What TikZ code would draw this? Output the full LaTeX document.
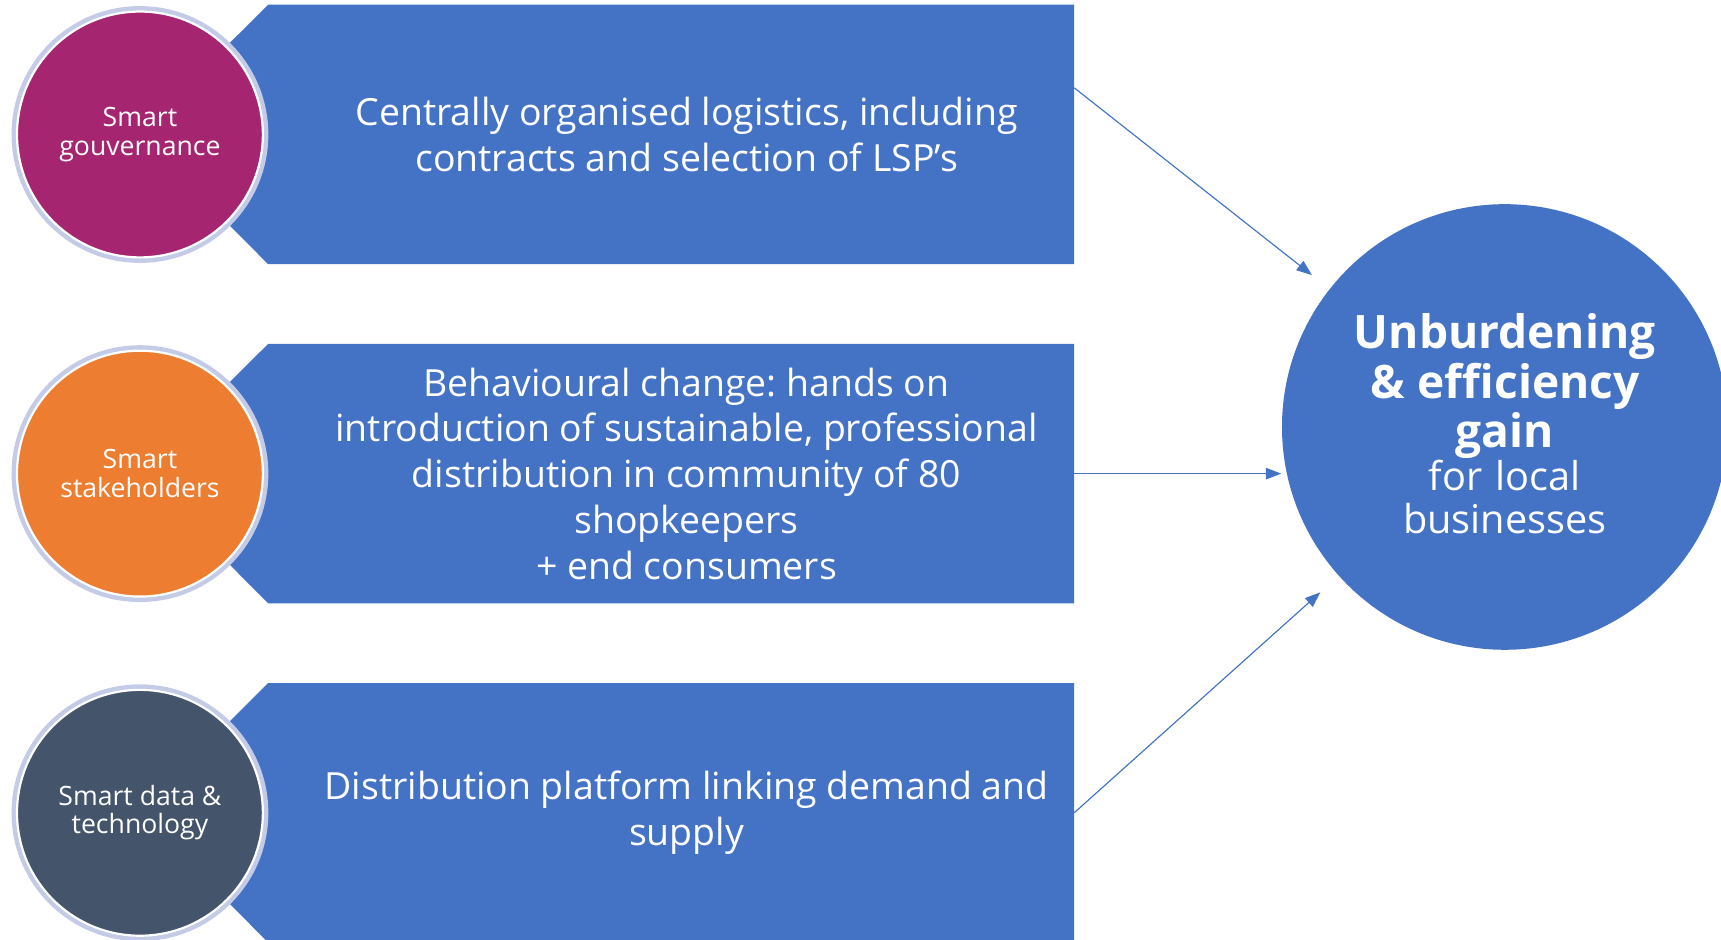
\documentclass[tikz,border=0pt]{standalone}
\usepackage{fontspec}
\setmainfont{Open Sans}
\usepackage{tikz}
\usetikzlibrary{positioning,arrows.meta}
\definecolor{bandc}{HTML}{4472C4}
\definecolor{govc}{HTML}{A62571}
\definecolor{stakec}{HTML}{ED7D31}
\definecolor{datac}{HTML}{44546A}
\definecolor{ringc}{HTML}{C3CBE6}
\frenchspacing

\begin{document}
\begin{tikzpicture}[node distance=3.09cm,on grid,
    band/.style={rectangle,minimum width=7.33cm,minimum height=2.35cm,inner sep=0pt},
    bandtext/.style={text=white,align=center,font=\fontsize{9.7}{11.87}\selectfont},
    pillar/.style={circle,minimum size=2.24cm,inner sep=0pt,draw=white,line width=0.02cm,
        preaction={draw=ringc,line width=0.1cm},text=white,align=center,
        font=\fontsize{6.9}{7.4}\selectfont},
    goal/.style={circle,fill=bandc,minimum size=4.06cm,inner sep=0pt,text=white,
        text width=3cm,align=center},
    flow/.style={-{Triangle[length=4pt,width=3pt]},color=bandc,line width=0.3pt}]
   \useasboundingbox (0,0) rectangle (15.68,-8.56);
   \node[band] (b_1) at (6.115,-1.225) {};
   \node[band] (b_2) [below=of b_1] {};
   \node[band] (b_3) [below=of b_2] {};
   \foreach \b in {b_1,b_2,b_3}
     \fill[bandc] (\b.north east) -- (\b.north west) -- ++(-1.18,-1.175)
       -- (\b.south west) -- (\b.south east) -- cycle;
   \node[bandtext] (t_1) at ([xshift=0.14cm]b_1.center)
     {Centrally organised logistics, including\\ contracts and selection of LSP’s};
   \node[bandtext] (t_2) at ([xshift=0.14cm]b_2.center)
     {Behavioural change: hands on\\ introduction of sustainable, professional\\ distribution in community of 80\\ shopkeepers\\ + end consumers};
   \node[bandtext] (t_3) at ([xshift=0.14cm]b_3.center)
     {Distribution platform linking demand and\\ supply};
   \node[pillar,fill=govc] (p_1) [left=4.84cm of b_1] {Smart\\ gouvernance};
   \node[pillar,fill=stakec] (p_2) [left=4.84cm of b_2] {Smart\\ stakeholders};
   \node[pillar,fill=datac] (p_3) [left=4.84cm of b_3] {Smart data \&\\ technology};
   \node[goal] (gain) at (13.71,-3.89)
     {{\fontsize{11.95}{12.9}\selectfont\bfseries Unburdening\\ \& efficiency\\ gain\par}
      {\fontsize{10.3}{11.1}\selectfont for local\\ businesses\par}\vspace{0.6mm}};
    \path[flow]
    ([yshift=4.25mm]b_1.east) edge [shorten >=0.2cm] (gain)
    (b_2.east) edge (b_2.east -| gain.west)
    (b_3.east) edge [shorten >=0.22cm] (gain);
\end{tikzpicture}
\end{document}
